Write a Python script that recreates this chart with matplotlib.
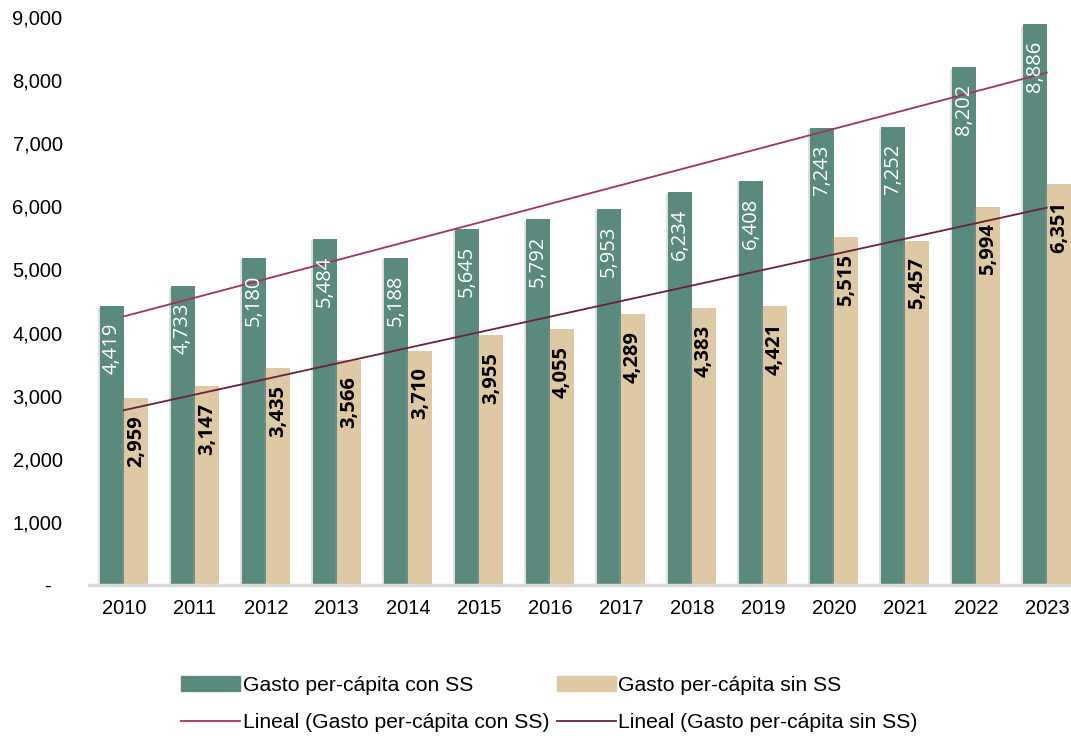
import numpy as np
import matplotlib
matplotlib.use("Agg")
from matplotlib import pyplot as plt
from matplotlib import patheffects as pe
from matplotlib.patches import Patch
from matplotlib.ticker import FuncFormatter

years = ["2010", "2011", "2012", "2013", "2014", "2015", "2016",
         "2017", "2018", "2019", "2020", "2021", "2022", "2023"]
con_ss = [4419, 4733, 5180, 5484, 5188, 5645, 5792, 5953, 6234, 6408, 7243, 7252, 8202, 8886]
sin_ss = [2959, 3147, 3435, 3566, 3710, 3955, 4055, 4289, 4383, 4421, 5515, 5457, 5994, 6351]

GREEN = "#5A8A7D"
BEIGE = "#DFC9A4"
LINE_CON = "#A2325A"
LINE_SIN = "#6B1F3F"

plt.rcParams["font.family"] = ["Liberation Sans", "DejaVu Sans"]

fig = plt.figure(figsize=(10.71, 7.36), dpi=100)
ax = fig.add_axes([89 / 1071, 1 - 585 / 736, 1 - 89 / 1071, (585 - 17) / 736])

x = np.arange(len(years))
w = 0.34
b1 = ax.bar(x - w / 2, con_ss, w, color=GREEN, zorder=2)
b2 = ax.bar(x + w / 2, sin_ss, w, color=BEIGE, zorder=2)
for b in list(b1) + list(b2):
    b.set_path_effects([pe.SimplePatchShadow(offset=(-1.5, -1), shadow_rgbFace="#999999", alpha=0.3), pe.Normal()])

# linear trend lines (like Excel)
p_con = np.polyfit(x, con_ss, 1)
p_sin = np.polyfit(x, sin_ss, 1)
l1, = ax.plot(x, np.polyval(p_con, x), color=LINE_CON, lw=1.3, zorder=3,
              label="Lineal (Gasto per-cápita con SS)")
l2, = ax.plot(x, np.polyval(p_sin, x), color=LINE_SIN, lw=1.3, zorder=3,
              label="Lineal (Gasto per-cápita sin SS)")

for xi, v in zip(x, con_ss):
    ax.annotate(f"{v:,}", (xi - w / 2, v), xytext=(0, -12), textcoords="offset points",
                rotation=90, ha="center", va="top", color="white",
                fontsize=14.5, family="Open Sans", zorder=4)
for xi, v in zip(x, sin_ss):
    ax.annotate(f"{v:,}", (xi + w / 2, v), xytext=(0, -12), textcoords="offset points",
                rotation=90, ha="center", va="top", color="black",
                fontsize=14.5, family="Open Sans", fontweight="bold", zorder=4)

ax.set_xlim(-0.49, 13.34)
ax.set_ylim(0, 9000)
ax.set_yticks(np.arange(0, 9001, 1000))
ax.yaxis.set_major_formatter(FuncFormatter(lambda v, p: "-  " if v == 0 else f"{int(v):,}"))
ax.set_xticks(x)
ax.set_xticklabels(years)
ax.tick_params(axis="both", length=0, labelsize=14.5)
ax.tick_params(axis="y", pad=19)
ax.tick_params(axis="x", pad=10)
for s in ["top", "right", "left"]:
    ax.spines[s].set_visible(False)
ax.spines["bottom"].set_color("#D9D9D9")
ax.spines["bottom"].set_linewidth(2.5)

h1 = Patch(color=GREEN, label="Gasto per-cápita con SS")
h2 = Patch(color=BEIGE, label="Gasto per-cápita sin SS")
fig.legend(handles=[h1, l1, h2, l2], loc="center", bbox_to_anchor=(0.513, 1 - 704 / 736),
           ncol=2, frameon=False, fontsize=15.2, handlelength=2.8, handleheight=0.75,
           handletextpad=0.12, columnspacing=0.35, labelspacing=0.85)

fig.savefig("out.png", dpi=100)
